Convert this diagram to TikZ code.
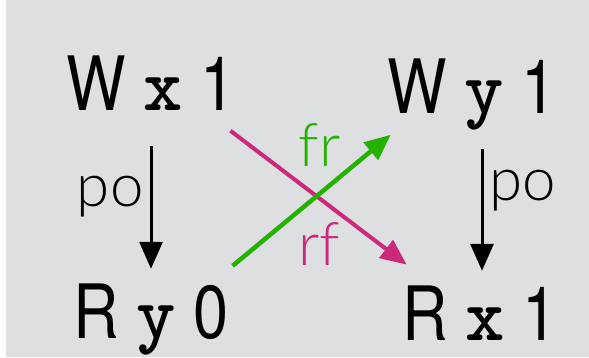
\documentclass[tikz,border=0pt]{standalone}
\usepackage{fontspec}
\usetikzlibrary{arrows.meta,positioning}
\usepackage{xcolor}
\newfontfamily\evfont{TeX Gyre Heros}[FakeStretch=0.84]
\newfontfamily\lblfont{Lato Light}
\definecolor{bggray}{RGB}{222,223,225}
\definecolor{rfcol}{RGB}{204,41,125}
\definecolor{frcol}{RGB}{36,178,0}

\begin{document}
\begin{tikzpicture}[x=1pt,y=-1pt,
      ev/.style={anchor=base,inner xsep=2pt,inner ysep=26pt,text height=54pt,
        text depth=0pt,font=\fontsize{75}{80}\evfont},
      poarr/.style={-{Triangle[length=27pt,width=23pt]},line width=3pt,
        shorten <=10pt,shorten >=-11pt},
      rfarr/.style={-{Triangle[length=26pt,width=22pt]},line width=4pt,draw=rfcol,
        shorten <=-9pt,shorten >=-8pt},
      frarr/.style={-{Triangle[length=26pt,width=22pt]},line width=4.5pt,draw=frcol,
        shorten >=-7pt},
      lbl/.style={font=\fontsize{60}{64}\lblfont,inner sep=3pt},
    ]
    % background
    \useasboundingbox (0,0) rectangle (589,357);
    \fill[white] (0,0) rectangle (589,357);
    \fill[bggray] (6,0) rectangle (589,357);
    % events
    \node[ev] (wx) at (151,110) {W {\ttfamily\bfseries x} 1};
    \node[ev] (wy) at (472,113) {W {\ttfamily\bfseries y} 1};
    \node[ev] (ry) at (151,338) {R {\ttfamily\bfseries y} 0};
    \node[ev] (rx) at (480,340) {R {\ttfamily\bfseries x} 1};

    % program order
    \draw[poarr] (wx.south) -- (wx.south |- ry.north)
      node[midway,left,lbl,inner xsep=6pt]{po};
    \draw[poarr] ([xshift=2pt]wy.south -| rx.north) -- ([xshift=2pt]rx.north)
      node[pos=0.43,right,lbl,inner xsep=6pt]{po};
    % reads-from and from-read
    \draw[rfarr] (wx.south east) -- (rx.north west)
      node[pos=0.66,below left,lbl,text=rfcol]{rf};
    \draw[frarr] ([xshift=2pt,yshift=-8pt]ry.north east) -- (wy.south west)
      node[pos=0.74,above left,lbl,text=frcol]{fr};
  \end{tikzpicture}
\end{document}
